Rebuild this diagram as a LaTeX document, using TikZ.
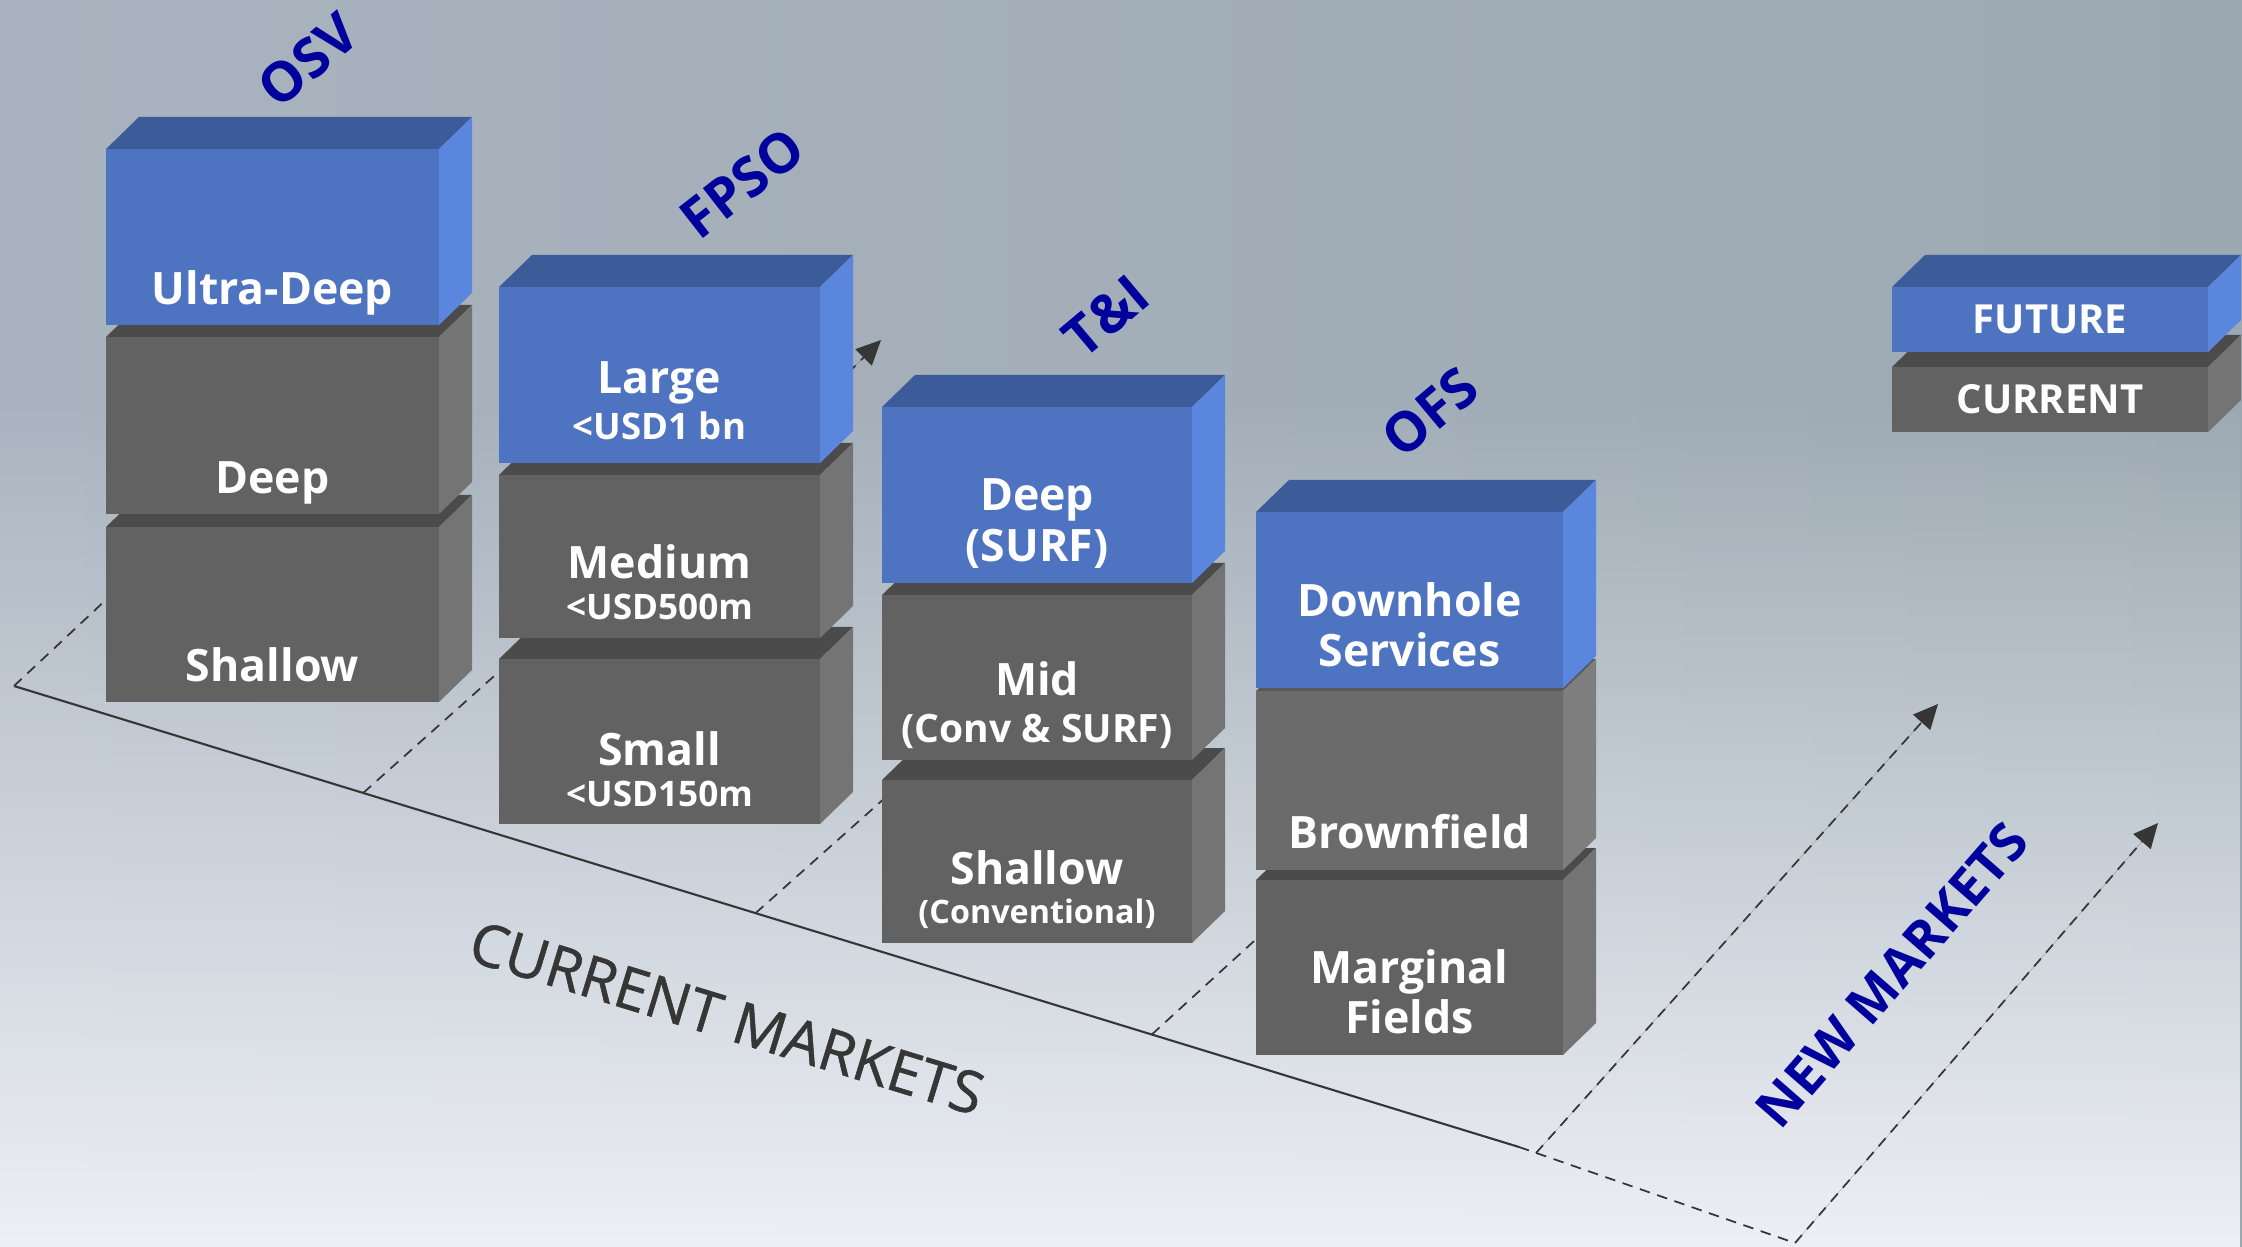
\documentclass[tikz,border=0pt]{standalone}
\usepackage{fontspec}
\setmainfont{Open Sans}
\newfontfamily\cmfont{Open Sans}[FakeBold=0.9]
\usetikzlibrary{calc,arrows.meta,fadings}
\definecolor{bfront}{HTML}{4D73C1}
\definecolor{btop}{HTML}{3C5B99}
\definecolor{bside}{HTML}{5A86DE}
\definecolor{gfront}{HTML}{626262}
\definecolor{gtop}{HTML}{4B4B4B}
\definecolor{gside}{HTML}{747474}
\definecolor{lfront}{HTML}{6B6B6B}
\definecolor{ltop}{HTML}{585858}
\definecolor{lside}{HTML}{7E7E7E}
\definecolor{bgL}{HTML}{A9B3BF}
\definecolor{bgM}{HTML}{C3C9D2}
\definecolor{bgR}{HTML}{9CA9B2}
\definecolor{bgB}{HTML}{EDF0F5}
\definecolor{navy}{HTML}{00009C}
\definecolor{linec}{HTML}{363636}
\tikzfading[name=bgfade, top color=transparent!100, middle color=transparent!30, bottom color=transparent!0]
\newcommand\mkblock[7]{%
  \fill[#6] (#1,#3) -- (#1+33,#3-32) -- (#2+33,#3-32) -- (#2,#3) -- cycle;
  \fill[#7] (#2,#3) -- (#2+33,#3-32) -- (#2+33,#4-32) -- (#2,#4) -- cycle;
  \fill[#5] (#1,#3) rectangle (#2,#4);
}
\newcommand\bblock[4]{\mkblock{#1}{#2}{#3}{#4}{bfront}{btop}{bside}}
\newcommand\gblock[4]{\mkblock{#1}{#2}{#3}{#4}{gfront}{gtop}{gside}}
\newcommand\lblock[4]{\mkblock{#1}{#2}{#3}{#4}{lfront}{ltop}{lside}}
\tikzset{
  lab/.style={text=white, font=\bfseries\fontsize{12.7}{15}\selectfont, inner sep=0pt, anchor=base},
  sublab/.style={text=white, font=\bfseries\fontsize{10}{12}\selectfont, inner sep=0pt, anchor=base},
  head/.style={text=navy, font=\bfseries\fontsize{15.6}{18}\selectfont, inner sep=0pt},
  axisline/.style={draw=linec, line width=0.6pt},
  dline/.style={draw=linec, line width=0.5pt, dash pattern=on 3pt off 2.2pt},
  arrtip/.style={-{Triangle[length=7pt,width=6.5pt]}, fill=linec}
}
\begin{document}
\begin{tikzpicture}[x=0.1mm,y=-0.1mm]
\useasboundingbox (0,0) rectangle (2242,1247);
% background
\shade[left color=bgL, middle color=bgM, right color=bgR] (0,0) rectangle (2242,1247);
\fill[bgB, path fading=bgfade] (0,400) rectangle (2242,1247);

% axis coordinates
\coordinate (O) at (14,686);
\coordinate (E) at (1519,1147);
\coordinate (F) at (1795,1243);
\coordinate (d1) at (110,596);
\coordinate (d2s) at ($(O)!0.232!(E)$);
\coordinate (d2e) at (511,661);
\coordinate (d3s) at ($(O)!0.4927!(E)$);
\coordinate (d3e) at (895,789);
\coordinate (d4s) at ($(O)!0.756!(E)$);
\coordinate (d4e) at (1265,931);
\coordinate (n1s) at (1536,1153);
\coordinate (n1e) at (1938,704);
\coordinate (n2e) at (2158,823);
\coordinate (h1s) at (848,373);
\coordinate (h1e) at (881,340);

\draw[axisline] (O) -- (E);
\draw[dline] (O) -- (d1);
\draw[dline] (d2s) -- (d2e);
\draw[dline] (d3s) -- (d3e);
\draw[dline] (d4s) -- (d4e);
\draw[dline] (E) -- (F);
\draw[dline, arrtip] (n1s) -- (n1e);
\draw[dline, arrtip] (F) -- (n2e);
\draw[dline, arrtip] (h1s) -- (h1e);

% OSV
\gblock{106}{439}{527}{702}
\gblock{106}{439}{337}{514}
\bblock{106}{439}{149}{325}
% FPSO
\gblock{499}{820}{659}{824}
\gblock{499}{820}{475}{638}
\bblock{499}{820}{287}{463}
% T&I
\gblock{882}{1192}{780}{943}
\gblock{882}{1192}{595}{760}
\bblock{882}{1192}{407}{583}
% OFS
\gblock{1256}{1563}{880}{1055}
\lblock{1256}{1563}{691}{870}
\bblock{1256}{1563}{512}{688}
% legend
\gblock{1892}{2208}{367}{432}
\bblock{1892}{2208}{287}{352}

% labels
\node[lab] (ud) at (272.5,305) {Ultra-Deep};
\node[lab] (dp) at (272.5,494) {Deep};
\node[lab] (sh) at (272.5,682) {Shallow};
\node[lab] (lg) at (659.5,394) {Large};
\node[sublab, font=\bfseries\fontsize{10.4}{12}\selectfont] (lgs) at (659.5,440) {<USD1 bn};
\node[lab] (md) at (659.5,579) {Medium};
\node[sublab] (mds) at (659.5,620) {<USD500m};
\node[lab] (sm) at (659.5,765) {Small};
\node[sublab] (sms) at (659.5,806) {<USD150m};
\node[lab] (td) at (1037,511) {Deep};
\node[lab] (tds) at (1037,562) {(SURF)};
\node[lab] (tm) at (1037,695) {Mid};
\node[lab, font=\bfseries\fontsize{11.1}{13}\selectfont] (tms) at (1037,742) {(Conv \& SURF)};
\node[lab] (ts) at (1037,884) {Shallow};
\node[lab, font=\bfseries\fontsize{9.2}{11}\selectfont] (tss) at (1037,923) {(Conventional)};
\node[lab] (dh) at (1409.5,617) {Downhole};
\node[lab] (sv) at (1409.5,667) {Services};
\node[lab] (bf) at (1409.5,848) {Brownfield};
\node[lab] (mg) at (1409.5,983) {Marginal};
\node[lab] (fl) at (1409.5,1033) {Fields};
\node[lab, font=\bfseries\fontsize{11.4}{13}\selectfont] (fut) at (2050,333.5) {FUTURE};
\node[lab, font=\bfseries\fontsize{11.4}{13}\selectfont] (cur) at (2050,414) {CURRENT};

% headers
\node[head, rotate=40] (osv) at (308,60) {OSV};
\node[head, rotate=38] (fpso) at (742,183) {FPSO};
\node[head, rotate=40] (ti) at (1106,316) {T\&I};
\node[head, rotate=40] (ofs) at (1430,412) {OFS};
\node[head, rotate=49, font=\bfseries\fontsize{15}{18}\selectfont] (nm) at (1892,975) {NEW MARKETS};
\node[text=linec, rotate=-17, inner sep=0pt, font=\cmfont\fontsize{16.6}{19}\selectfont] (cm) at (727,1018) {CURRENT MARKETS};
\end{tikzpicture}
\end{document}
